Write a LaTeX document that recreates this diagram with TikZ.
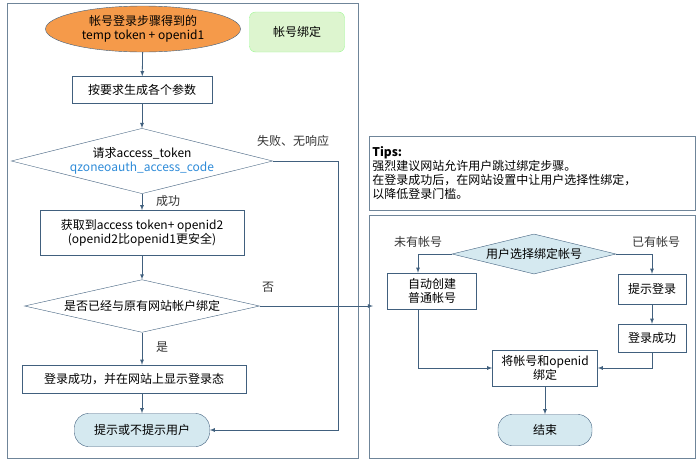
\documentclass[tikz,border=0pt]{standalone}
\usepackage{fontspec}
\setmainfont{Noto Sans CJK SC}
\usepackage{tikz}
\usetikzlibrary{positioning, calc, shapes}
\definecolor{edge}{HTML}{41607E}
\definecolor{frame}{HTML}{6F8599}
\definecolor{lblue}{HTML}{D5E9F0}
\definecolor{orng}{HTML}{F59A4A}
\definecolor{lgreen}{HTML}{DDF5CF}
\definecolor{qzblue}{HTML}{2E8BD8}

\begin{document}
\begin{tikzpicture}[x=1pt, y=-1pt, font=\fontsize{12}{14}\selectfont, >=latex]
\tikzstyle{block}=[draw=edge, fill=white, inner sep=2pt, align=center]
\tikzstyle{decision}=[draw=edge, diamond, aspect=4, inner sep=1pt, align=center]
\tikzstyle{terminal}=[draw=edge, fill=lblue, rounded corners=14pt, align=center]
\tikzstyle{flow}=[->, draw=edge, thick]
\tikzstyle{lbl}=[text=black!80]

\useasboundingbox (0,0) rectangle (700,464);
% frames
\draw[frame, thick] (7,3) rectangle (358,458);
\draw[frame, thick] (369,215) rectangle (695,458);
\node (tips) [draw=frame, thick, minimum width=326pt, minimum height=74pt, anchor=north west,
  align=left, text width=320pt, inner sep=2pt] at (369,136)
  {\textbf{Tips:}\\强烈建议网站允许用户跳过绑定步骤。\\在登录成功后，在网站设置中让用户选择性绑定，\\以降低登录门槛。};

% left flow
\node (start) [ellipse, draw=edge, fill=orng, minimum width=195pt, minimum height=46pt,
  align=center, inner sep=0pt] at (143,29) {帐号登录步骤得到的\\temp token + openid1};
\node (bind) [draw=lgreen!70!green, fill=lgreen, rounded corners=6pt, minimum width=95pt,
  minimum height=40pt] at (297,32) {帐号绑定};
\node (param) [block, minimum width=140pt, minimum height=27pt] at (142,90) {按要求生成各个参数};
\node (req) [decision, minimum width=260pt, minimum height=62pt] at (142,161)
  {请求access\_token\\\textcolor{qzblue}{qzoneoauth\_access\_code}};
\node (got) [block, minimum width=204pt, minimum height=45pt] at (142,233)
  {获取到access token+ openid2\\(openid2比openid1更安全)};
\node (check) [decision, minimum width=235pt, minimum height=42pt] at (142,306) {是否已经与原有网站帐户绑定};
\node (ok) [block, minimum width=224pt, minimum height=28pt] at (134,379) {登录成功，并在网站上显示登录态};
\node (hint) [terminal, minimum width=135pt, minimum height=33pt] at (142,430) {提示或不提示用户};

\node (fail) [lbl] at (293,141) {失败、无响应};
\node (succ) [lbl] at (168,201) {成功};
\node (no) [lbl] at (268,287) {否};
\node (yes) [lbl] at (162,347) {是};
\coordinate (entry) at (373,306);

\draw[flow] (start) -- (param);
\draw[flow] (param) -- (req);
\draw[flow] (req) -- (got);
\draw[flow] (got) -- (check);
\draw[flow] (check) -- (check |- ok.north);
\draw[flow] (ok.south -| hint) -- (hint);
\draw[flow] (req.east) -- (338,161) |- (hint.east);
\draw[flow] (check.east) -- (entry);

% right flow
\node (choose) [decision, fill=lblue, minimum width=164pt, minimum height=40pt] at (534,254) {用户选择绑定帐号};
\node (create) [block, minimum width=89pt, minimum height=36pt] at (432,291) {自动创建\\普通帐号};
\node (prompt) [block, minimum width=68pt, minimum height=30pt] at (652,289) {提示登录};
\node (logged) [block, minimum width=68pt, minimum height=28pt] at (652,338) {登录成功};
\node (link) [block, minimum width=105pt, minimum height=36pt] at (545,368) {将帐号和openid\\绑定};
\node (end) [terminal, minimum width=94pt, minimum height=31pt] at (545,430) {结束};
\node (noacc) [lbl] at (418,242) {未有帐号};
\node (hasacc) [lbl] at (656,242) {已有帐号};

\draw[flow] (choose.west) -| ([xshift=-14pt]create.north);
\draw[flow] (choose.east) -| (prompt.north);
\draw[flow] (prompt) -- (logged);
\draw[flow] ([xshift=-14pt]create.south) |- (link.west);
\draw[flow] (logged.south) |- (link.east);
\draw[flow] (link) -- (end);
\end{tikzpicture}
\end{document}
